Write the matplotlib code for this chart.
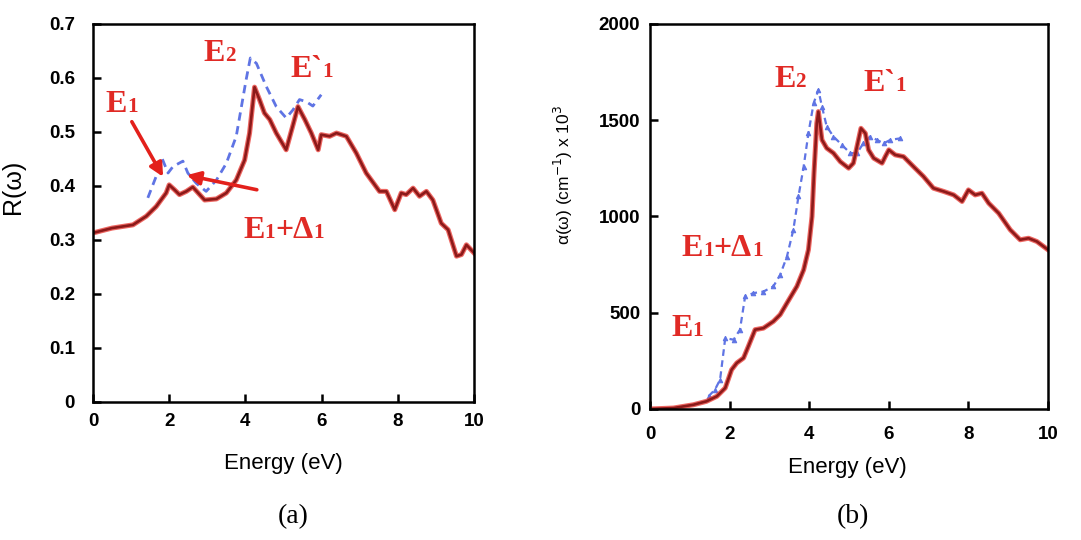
import matplotlib
matplotlib.use("Agg")
import matplotlib.pyplot as plt
import matplotlib.patheffects as pe
from matplotlib.offsetbox import TextArea, HPacker, AnnotationBbox

# ---- Reflectivity R(w), panel (a) ----
r_calc_E = [0.0, 0.5, 1.05, 1.4, 1.66, 1.92, 2.0, 2.14, 2.27, 2.45, 2.62, 2.8, 2.93, 3.24,
            3.5, 3.76, 3.98, 4.11, 4.24, 4.37, 4.5, 4.64, 4.81, 5.07, 5.25, 5.38, 5.56,
            5.73, 5.91, 5.99, 6.21, 6.39, 6.65, 6.91, 7.17, 7.52, 7.7, 7.92, 8.09, 8.22,
            8.4, 8.57, 8.75, 8.92, 9.14, 9.32, 9.54, 9.67, 9.8, 10.0]
r_calc = [0.313, 0.322, 0.328, 0.344, 0.362, 0.387, 0.402, 0.393, 0.384, 0.39, 0.398, 0.384,
          0.374, 0.376, 0.387, 0.411, 0.448, 0.498, 0.583, 0.56, 0.535, 0.523, 0.498, 0.467,
          0.513, 0.547, 0.523, 0.498, 0.467, 0.495, 0.492, 0.498, 0.492, 0.461, 0.424, 0.39,
          0.39, 0.356, 0.387, 0.384, 0.396, 0.381, 0.39, 0.374, 0.331, 0.319, 0.27, 0.273,
          0.291, 0.276]

r_exp_E = [1.44, 1.66, 1.82, 1.97, 2.1, 2.36, 2.49, 2.71, 2.97, 3.24, 3.5, 3.76, 4.02, 4.13,
           4.29, 4.55, 4.81, 5.07, 5.25, 5.42, 5.6, 5.77, 5.99]
r_exp = [0.378, 0.418, 0.45, 0.424, 0.436, 0.446, 0.424, 0.405, 0.39, 0.411, 0.442, 0.492,
         0.597, 0.637, 0.627, 0.584, 0.547, 0.526, 0.541, 0.56, 0.556, 0.548, 0.569]

# ---- Absorption coefficient alpha(w), panel (b) ----
a_calc_E = [0.0, 0.59, 1.09, 1.42, 1.68, 1.89, 2.05, 2.18, 2.35, 2.47, 2.64, 2.85, 3.1, 3.27,
            3.44, 3.69, 3.86, 3.98, 4.07, 4.12, 4.19, 4.23, 4.32, 4.44, 4.61, 4.78, 4.99,
            5.11, 5.2, 5.3, 5.41, 5.49, 5.62, 5.83, 5.91, 6.0, 6.16, 6.37, 6.62, 6.87, 7.12,
            7.38, 7.63, 7.84, 8.0, 8.17, 8.34, 8.51, 8.76, 9.05, 9.3, 9.51, 9.72, 10.0]
a_calc = [0, 5, 22, 40, 66, 109, 204, 239, 265, 325, 412, 420, 455, 490, 550, 637, 723, 827,
          1000, 1225, 1484, 1545, 1398, 1355, 1329, 1285, 1251, 1277, 1363, 1458, 1432, 1346,
          1303, 1277, 1311, 1346, 1320, 1311, 1259, 1208, 1147, 1130, 1112, 1078, 1138, 1112,
          1121, 1069, 1017, 931, 879, 887, 870, 827]

a_exp_E = [1.47, 1.63, 1.76, 1.89, 2.1, 2.26, 2.39, 2.6, 2.85, 3.1, 3.27, 3.44, 3.6, 3.73,
           3.86, 3.98, 4.11, 4.23, 4.32, 4.44, 4.61, 4.82, 5.03, 5.2, 5.36, 5.53, 5.7, 5.87,
           6.04, 6.29]
a_exp = [66, 100, 152, 368, 360, 412, 585, 602, 610, 637, 697, 792, 930, 1104, 1259, 1432,
         1588, 1657, 1571, 1467, 1415, 1372, 1329, 1329, 1380, 1415, 1398, 1380, 1398, 1406]

x_ticks = [0, 2, 4, 6, 8, 10]
r_ticks = [0, 0.1, 0.2, 0.3, 0.4, 0.5, 0.6, 0.7]
a_ticks = [0, 500, 1000, 1500, 2000]

RED_CORE = "#8c1a1a"
RED_GLOW = "#e8403a"
BLUE = "#5f74e4"
LABEL_RED = "#e02a25"

glow = [pe.Stroke(linewidth=3.6, foreground=RED_GLOW, alpha=0.8), pe.Normal()]


def peak_label(ax, x, y, parts, size=23):
    """Transition label: big letters with smaller digits sitting on the baseline."""
    boxes = []
    for txt, small in parts:
        props = dict(family="Liberation Serif", fontweight="bold", color=LABEL_RED,
                     fontsize=size * (0.66 if small else 1.0))
        boxes.append(TextArea(txt, textprops=props))
    pack = HPacker(children=boxes, align="baseline", pad=0, sep=0)
    ab = AnnotationBbox(pack, (x, y), xycoords="data", frameon=False,
                        box_alignment=(0.5, 0.5), pad=0)
    ax.add_artist(ab)


fig = plt.figure(figsize=(10.81, 5.40), dpi=100)
ax_a = fig.add_axes([0.086, 0.2556, 0.3525, 0.700])
ax_b = fig.add_axes([0.6013, 0.2426, 0.3682, 0.713])

for ax in (ax_a, ax_b):
    for s in ax.spines.values():
        s.set_linewidth(1.8)
    ax.set_xlim(0, 10)
    ax.set_xticks(x_ticks)
    ax.tick_params(direction="in", length=6, width=1.8, labelsize=13.5,
                   top=False, right=False)
    for lab in ax.get_xticklabels() + ax.get_yticklabels():
        lab.set_fontweight("bold")
        lab.set_fontfamily("Liberation Sans")

# panel (a)
ax_a.plot(r_exp_E, r_exp, color=BLUE, lw=2.0, ls=(0, (3, 2)))
ax_a.plot(r_calc_E, r_calc, color=RED_CORE, lw=1.9, path_effects=glow)
ax_a.set_ylim(0, 0.7)
ax_a.set_yticks(r_ticks)
ax_a.set_yticklabels(["0", "0.1", "0.2", "0.3", "0.4", "0.5", "0.6", "0.7"],
                     fontweight="bold", fontfamily="Liberation Sans")
ax_a.tick_params(axis="y", pad=13)
ax_a.tick_params(axis="x", pad=8)
ax_a.set_xlabel("Energy (eV)", fontsize=16, family="Liberation Sans")
ax_a.xaxis.set_label_coords(0.499, -0.135)
ax_a.set_ylabel("R(ω)", fontsize=18, family="Liberation Sans")
ax_a.yaxis.set_label_coords(-0.178, 0.569)

peak_label(ax_a, 0.76, 0.55, [("E", False), ("1", True)])
peak_label(ax_a, 3.33, 0.646, [("E", False), ("2", True)])
peak_label(ax_a, 5.74, 0.615, [("E`", False), ("1", True)])
peak_label(ax_a, 5.0, 0.318, [("E", False), ("1", True), ("+Δ", False), ("1", True)])
arrow = dict(arrowstyle="-|>", color="#e3201b", lw=2.6, mutation_scale=20, shrinkA=0, shrinkB=0)
ax_a.annotate("", xy=(1.84, 0.417), xytext=(1.02, 0.519), arrowprops=arrow)
ax_a.annotate("", xy=(2.46, 0.42), xytext=(4.3, 0.393), arrowprops=arrow)

# panel (b)
ax_b.plot(a_exp_E, a_exp, color=BLUE, lw=1.6, ls=(0, (3, 2)), marker="^", markersize=3.2,
          markeredgewidth=0.8)
ax_b.plot(a_calc_E, a_calc, color=RED_CORE, lw=1.9, path_effects=glow)
ax_b.set_ylim(0, 2000)
ax_b.set_yticks(a_ticks)
ax_b.set_yticklabels([str(t) for t in a_ticks], fontweight="bold", fontfamily="Liberation Sans")
ax_b.tick_params(axis="y", pad=7)
ax_b.tick_params(axis="x", pad=12)
ax_b.set_xlabel("Energy (eV)", fontsize=16, family="Liberation Sans")
ax_b.xaxis.set_label_coords(0.497, -0.125)
ax_b.set_ylabel("α(ω) (cm$^{-1}$) x 10$^{3}$", fontsize=12.5, family="Liberation Sans")
ax_b.yaxis.set_label_coords(-0.188, 0.608)

peak_label(ax_b, 3.52, 1709, [("E", False), ("2", True)])
peak_label(ax_b, 5.9, 1693, [("E`", False), ("1", True)])
peak_label(ax_b, 1.81, 836, [("E", False), ("1", True), ("+Δ", False), ("1", True)])
peak_label(ax_b, 0.93, 420, [("E", False), ("1", True)])

fig.text(293 / 1081, 1 - 517 / 540, "(a)", ha="center", va="center",
         family="Liberation Serif", fontsize=20)
fig.text(853 / 1081, 1 - 517 / 540, "(b)", ha="center", va="center",
         family="Liberation Serif", fontsize=20)

fig.savefig("out.png", dpi=100)
